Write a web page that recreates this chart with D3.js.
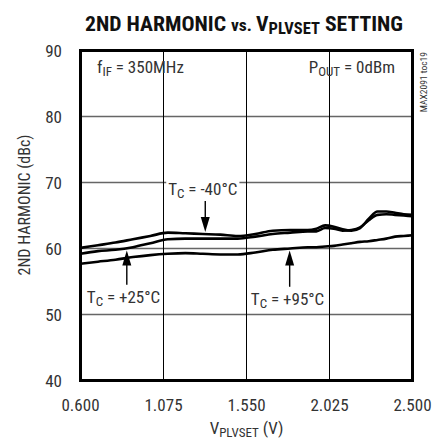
<!DOCTYPE html>
<html><head><meta charset="utf-8">
<script src="https://cdn.jsdelivr.net/npm/d3@7"></script>
<style>
html,body{margin:0;padding:0;background:#fff;}
svg text{font-family:"Liberation Sans Narrow","Roboto Condensed","Arial Narrow","Liberation Sans",sans-serif;fill:#333;}
</style></head>
<body><svg id="c" width="432" height="440"></svg>
<script>
const voltages = [0.60,0.70,0.80,0.90,1.00,1.10,1.20,1.30,1.40,1.50,1.60,1.70,1.80,1.90,1.95,2.00,2.05,2.10,2.15,2.20,2.25,2.30,2.35,2.40,2.45,2.50];
const tcMinus40 = [60.1,60.5,60.9,61.4,61.9,62.4,62.3,62.2,62.1,61.9,62.2,62.7,62.8,62.8,63.0,63.5,63.3,62.9,62.7,63.1,64.5,65.6,65.6,65.4,65.2,65.1];
const tcPlus25  = [59.2,59.6,59.8,60.2,60.8,61.4,61.5,61.5,61.5,61.5,61.8,62.2,62.4,62.6,62.6,63.1,63.0,62.7,62.8,63.2,64.3,65.1,65.2,65.1,65.0,64.9];
const tcPlus95  = [57.7,58.0,58.3,58.7,59.0,59.2,59.3,59.2,59.1,59.1,59.4,59.8,60.0,60.2,60.2,60.3,60.4,60.6,60.8,61.0,61.1,61.3,61.5,61.8,61.9,62.0];
const xTicks = [0.600,1.075,1.550,2.025,2.500];
const xTickLabels = ["0.600","1.075","1.550","2.025","2.500"];
const yTicks = [40,50,60,70,80,90];

const svg = d3.select("#c");
const L=80.5, R=412.5, T=50.5, B=380.5;
const x = d3.scaleLinear().domain([0.6,2.5]).range([L,R]);
const y = d3.scaleLinear().domain([40,90]).range([B,T]);

// gridlines
svg.append("g").selectAll("line").data(yTicks.slice(1,-1)).join("line")
  .attr("x1",L).attr("x2",R).attr("y1",d=>y(d)).attr("y2",d=>y(d))
  .attr("stroke","#666").attr("stroke-width",1.4);
svg.append("g").selectAll("line").data(xTicks.slice(1,-1)).join("line")
  .attr("x1",d=>x(d)).attr("x2",d=>x(d)).attr("y1",T).attr("y2",B)
  .attr("stroke","#000").attr("stroke-width",1);

// labels with white background (drawn before curves)
const ann = svg.append("g");
function label(vx, vy, parts, anchor){
  const g = ann.append("g");
  const t = g.append("text").attr("x",x(vx)).attr("y",y(vy)).attr("font-size",17).attr("text-anchor",anchor||"start");
  parts.forEach(p=>{
    const ts=t.append("tspan").text(p.t);
    if(p.sub){ts.attr("font-size",13).attr("dy",3);} else if(p.after){ts.attr("dy",-3);}
  });
  const bb=t.node().getBBox();
  g.insert("rect","text").attr("x",bb.x-2).attr("y",bb.y).attr("width",bb.width+4).attr("height",bb.height).attr("fill","#fff");
}
label(1.30,68.05,[{t:"T"},{t:"C",sub:true},{t:" = -40°C",after:true}],"middle");
label(0.636,51.7,[{t:"T"},{t:"C",sub:true},{t:" = +25°C",after:true}]);
label(1.575,51.4,[{t:"T"},{t:"C",sub:true},{t:" = +95°C",after:true}]);

// curves
const line = d3.line().x((d,i)=>x(voltages[i])).y(d=>y(d)).curve(d3.curveMonotoneX);
[tcMinus40,tcPlus25,tcPlus95].forEach(s=>{
  svg.append("path").attr("d",line(s)).attr("fill","none").attr("stroke","#000").attr("stroke-width",2.6).attr("stroke-linejoin","round");
});

// arrows
function arrow(vx, vFrom, vTo){
  const x0=x(vx), y0=y(vFrom), y1=y(vTo);
  const dir = y1>y0?1:-1;
  svg.append("line").attr("x1",x0).attr("x2",x0).attr("y1",y0).attr("y2",y1-dir*12).attr("stroke","#000").attr("stroke-width",1.4);
  svg.append("path").attr("d",`M${x0},${y1} L${x0-4.5},${y1-dir*15} L${x0+4.5},${y1-dir*15} Z`).attr("fill","#000");
}
arrow(1.314,67.2,62.5);
arrow(0.865,54.5,59.7);
arrow(1.797,54.2,59.7);

// frame
svg.append("rect").attr("x",L).attr("y",T).attr("width",R-L).attr("height",B-T).attr("fill","none").attr("stroke","#000").attr("stroke-width",3);

// axes labels
svg.append("g").selectAll("text").data(yTicks).join("text")
  .attr("x",62).attr("y",d=>y(d)+6).attr("text-anchor","end").attr("font-size",17).text(d=>d);
svg.append("g").selectAll("text").data(xTicks).join("text")
  .attr("x",d=>x(d)).attr("y",411).attr("text-anchor","middle").attr("font-size",17).text((d,i)=>xTickLabels[i]);

// axis titles
const xt = svg.append("text").attr("x",x(1.55)).attr("y",434).attr("text-anchor","middle").attr("font-size",17);
xt.append("tspan").text("V");
xt.append("tspan").text("PLVSET").attr("font-size",13).attr("dy",3);
xt.append("tspan").text(" (V)").attr("dy",-3);

svg.append("text").attr("transform",`translate(30,${205}) rotate(-90)`).attr("text-anchor","middle").attr("font-size",16).text("2ND HARMONIC (dBc)");

// title
const tt = svg.append("text").attr("x",85).attr("y",31).attr("font-size",21).attr("font-weight","bold").style("fill","#111")
  .attr("textLength",318).attr("lengthAdjust","spacingAndGlyphs");
tt.append("tspan").text("2ND HARMONIC ");
tt.append("tspan").text("vs. ").attr("font-size",17);
tt.append("tspan").text("V");
tt.append("tspan").text("PLVSET").attr("font-size",16).attr("dy",3);
tt.append("tspan").text(" SETTING").attr("dy",-3);

// conditions
const c1 = svg.append("text").attr("x",97).attr("y",73).attr("font-size",17);
c1.append("tspan").text("f");
c1.append("tspan").text("IF").attr("font-size",13).attr("dy",3);
c1.append("tspan").text(" = 350MHz").attr("dy",-3);
const c2 = svg.append("text").attr("x",395).attr("y",73).attr("font-size",17).attr("text-anchor","end");
c2.append("tspan").text("P");
c2.append("tspan").text("OUT").attr("font-size",13).attr("dy",3);
c2.append("tspan").text(" = 0dBm").attr("dy",-3);

svg.append("text").attr("transform","translate(427,52) rotate(-90)").attr("text-anchor","end").attr("font-size",9.5).text("MAX2091 toc19");
</script></body></html>
